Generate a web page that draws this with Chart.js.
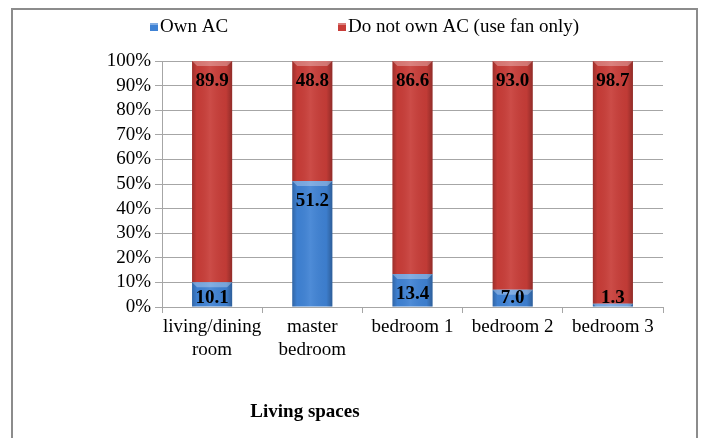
<!DOCTYPE html>
<html>
<head>
<meta charset="utf-8">
<script src="https://cdn.jsdelivr.net/npm/chart.js@4/dist/chart.umd.min.js"></script>
<style>
  html, body { margin: 0; padding: 0; background: #fff; }
  #wrap { position: relative; width: 701px; height: 438px; }
</style>
</head>
<body>
<div id="wrap"><canvas id="acChart" width="701" height="438"></canvas></div>
<script>
// Share of households by room: owning an AC vs. fan only (%)
var rooms = [['living/dining', 'room'], ['master', 'bedroom'], 'bedroom 1', 'bedroom 2', 'bedroom 3'];
var ownAC = [10.1, 51.2, 13.4, 7.0, 1.3];
var fanOnly = [89.9, 48.8, 86.6, 93.0, 98.7];
var yTicks = [0, 10, 20, 30, 40, 50, 60, 70, 80, 90, 100];

var serif = '"Liberation Serif", "Times New Roman", serif';

// outer frame of the figure
var framePlugin = {
    id: 'frame',
    beforeDraw: function (chart) {
        var ctx = chart.ctx;
        ctx.save();
        ctx.fillStyle = '#fff';
        ctx.fillRect(0, 0, chart.width, chart.height);
        ctx.strokeStyle = '#8c8c8c';
        ctx.lineWidth = 2;
        ctx.strokeRect(12, 9, 685, 440);
        ctx.restore();
    }
};

// cylinder-ish shading and a light bevel on top of each segment
var shadePlugin = {
    id: 'shade',
    afterDatasetsDraw: function (chart) {
        var ctx = chart.ctx;
        chart.data.datasets.forEach(function (ds, i) {
            var meta = chart.getDatasetMeta(i);
            meta.data.forEach(function (bar) {
                var l = bar.x - bar.width / 2, r = bar.x + bar.width / 2;
                var top = Math.min(bar.y, bar.base), bot = Math.max(bar.y, bar.base);
                var h = bot - top;
                if (h <= 0) return;
                ctx.save();
                var g = ctx.createLinearGradient(l, 0, r, 0);
                g.addColorStop(0, 'rgba(0,0,0,0.22)');
                g.addColorStop(0.12, 'rgba(0,0,0,0.02)');
                g.addColorStop(0.45, 'rgba(255,255,255,0.08)');
                g.addColorStop(0.85, 'rgba(0,0,0,0.04)');
                g.addColorStop(1, 'rgba(0,0,0,0.28)');
                ctx.fillStyle = g;
                ctx.fillRect(l, top, r - l, h);
                var b = Math.min(5, h);
                ctx.beginPath();
                ctx.moveTo(l, top);
                ctx.lineTo(r, top);
                ctx.lineTo(r - b, top + b);
                ctx.lineTo(l + b, top + b);
                ctx.closePath();
                ctx.fillStyle = 'rgba(255,255,255,0.3)';
                ctx.fill();
                ctx.restore();
            });
        });
    }
};

// value labels near the top of each segment, legend row and x axis title
var labelPlugin = {
    id: 'valueLabels',
    afterDatasetsDraw: function (chart) {
        var ctx = chart.ctx;
        ctx.save();
        ctx.font = 'bold 19px ' + serif;
        ctx.fillStyle = '#000';
        ctx.textAlign = 'center';
        ctx.textBaseline = 'middle';
        chart.data.datasets.forEach(function (ds, i) {
            var meta = chart.getDatasetMeta(i);
            meta.data.forEach(function (bar, j) {
                var top = Math.min(bar.y, bar.base), bot = Math.max(bar.y, bar.base);
                var y = Math.min(top + 20, bot - 9);
                if (i === 0) y = Math.min(top + 20, chart.chartArea.bottom - 9);
                ctx.fillText(ds.data[j].toFixed(1), bar.x, y);
            });
        });
        ctx.restore();
    },
    afterDraw: function (chart) {
        var ctx = chart.ctx;
        var left = chart.chartArea.left;
        ctx.save();
        // legend
        var legendX = [left - 12, left + 176];
        ctx.font = '19px ' + serif;
        ctx.textAlign = 'left';
        ctx.textBaseline = 'middle';
        chart.data.datasets.forEach(function (ds, i) {
            ctx.fillStyle = ds.backgroundColor;
            ctx.fillRect(legendX[i], 23, 8, 8);
            ctx.fillStyle = 'rgba(255,255,255,0.35)';
            ctx.fillRect(legendX[i], 23, 8, 2);
            ctx.fillStyle = '#000';
            ctx.fillText(ds.label, legendX[i] + 10, 27);
        });
        // axis title
        ctx.font = 'bold 19px ' + serif;
        ctx.textAlign = 'center';
        ctx.fillText('Living spaces', left + 143, 412);
        ctx.restore();
    }
};

var ctx = document.getElementById('acChart').getContext('2d');
var acChart = new Chart(ctx, {
    type: 'bar',
    data: {
        labels: rooms,
        datasets: [{
            label: 'Own AC',
            data: ownAC,
            backgroundColor: '#3f82d4',
            borderWidth: 0
        }, {
            label: 'Do not own AC (use fan only)',
            data: fanOnly,
            backgroundColor: '#c83d38',
            borderWidth: 0
        }]
    },
    options: {
        responsive: false,
        animation: false,
        maintainAspectRatio: false,
        layout: { padding: { left: 90, right: 38, top: 61, bottom: 0 } },
        datasets: { bar: { barPercentage: 0.4, categoryPercentage: 1 } },
        plugins: {
            legend: { display: false },
            tooltip: { enabled: false }
        },
        scales: {
            x: {
                stacked: true,
                afterFit: function (axis) { axis.height = 131; },
                grid: { drawOnChartArea: false, color: '#a6a6a6', tickLength: 6, offset: true },
                border: { color: '#a6a6a6' },
                ticks: { font: { family: serif, size: 19 }, color: '#000', padding: 3, maxRotation: 0, autoSkip: false }
            },
            y: {
                stacked: true,
                min: 0,
                max: 100,
                afterFit: function (axis) { axis.width = 72; },
                afterBuildTicks: function (axis) {
                    axis.ticks = yTicks.map(function (v) { return { value: v }; });
                },
                grid: { color: '#a6a6a6', tickLength: 7 },
                border: { color: '#a6a6a6' },
                ticks: {
                    font: { family: serif, size: 19 },
                    color: '#000',
                    padding: 4,
                    autoSkip: false,
                    callback: function (v) { return v + '%'; }
                }
            }
        }
    },
    plugins: [framePlugin, shadePlugin, labelPlugin]
});
</script>
</body>
</html>
